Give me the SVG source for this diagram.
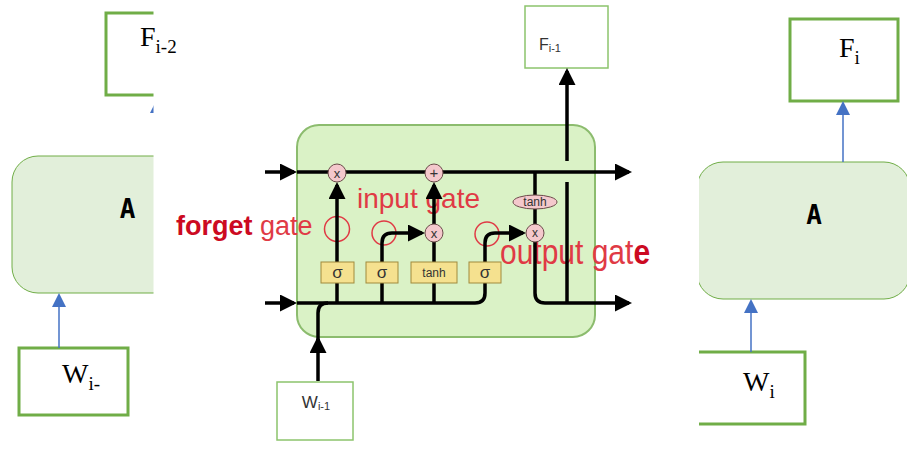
<svg xmlns="http://www.w3.org/2000/svg" width="907" height="450" viewBox="0 0 907 450">
<defs>
<style>
.gbox{fill:#fff;stroke:#70ad47;stroke-width:3}
.arect{fill:#e2efda;stroke:#70ad47;stroke-width:1}
.serif{font-family:"Liberation Serif","Times New Roman",serif;fill:#000;font-size:28px}
.sub{font-size:19px}
.atext{font-family:"DejaVu Sans Mono",monospace;font-weight:bold;font-size:26px;fill:#000;text-anchor:middle}
.blue{stroke:#4472c4;stroke-width:1.5;fill:none;marker-end:url(#bArrow)}
.blk{stroke:#000;stroke-width:3.5;fill:none}
.ka{marker-end:url(#kArrow)}
.sig{fill:#f5e18f;stroke:#a08a3c;stroke-width:1}
.pt{fill:#f4c8cc;stroke:#6b4a4a;stroke-width:1}
.rc{fill:none;stroke:#e03a45;stroke-width:1.5}
.rt{font-family:"Liberation Sans",Arial,sans-serif;fill:#e03a45}
.dk{fill:#cc0a22;font-weight:bold}
.small{font-family:"Liberation Sans",Arial,sans-serif;fill:#333;text-anchor:middle}
.lbox{fill:#fff;stroke:#8cc46c;stroke-width:1.5}
</style>
<marker id="kArrow" markerUnits="userSpaceOnUse" markerWidth="17" markerHeight="17" viewBox="0 0 17 17" refX="14" refY="8.5" orient="auto"><path d="M0,0 L17,8.5 L0,17 z" fill="#000"/></marker>
<marker id="bArrow" markerUnits="userSpaceOnUse" markerWidth="14" markerHeight="14" viewBox="0 0 14 14" refX="12" refY="7" orient="auto"><path d="M0,0 L14,7 L0,14 z" fill="#4472c4"/></marker>
<clipPath id="clipL"><rect x="0" y="0" width="153.5" height="450"/></clipPath>
<clipPath id="clipR"><rect x="699" y="0" width="208" height="450"/></clipPath>
</defs>
<rect x="0" y="0" width="907" height="450" fill="#fff"/>

<!-- left panel -->
<g id="left-A">
  <rect class="arect" x="12" y="156" width="220" height="137" rx="26" clip-path="url(#clipL)"/>
  <text class="atext" x="127.5" y="218">A</text>
</g>
<g id="left-F">
  <rect class="gbox" x="106" y="13" width="100" height="82" clip-path="url(#clipL)"/>
  <text class="serif" x="140" y="46">F<tspan class="sub" dy="7">i-2</tspan></text>
</g>
<g id="left-W">
  <rect class="gbox" x="19" y="348" width="109" height="67"/>
  <text class="serif" x="62" y="383">W<tspan class="sub" dy="7">i-</tspan></text>
</g>

<!-- right panel -->
<g id="right-A">
  <rect class="arect" x="697" y="162" width="213" height="137" rx="26" clip-path="url(#clipR)"/>
  <text class="atext" x="814" y="224">A</text>
</g>
<g id="right-F">
  <rect class="gbox" x="790" y="19" width="108" height="82"/>
  <text class="serif" x="839" y="57">F<tspan class="sub" dy="7">i</tspan></text>
</g>
<g id="right-W">
  <rect class="gbox" x="690" y="352" width="115" height="72" clip-path="url(#clipR)"/>
  <text class="serif" x="743" y="391">W<tspan class="sub" dy="7">i</tspan></text>
</g>

<!-- LSTM cell -->
<g id="lstm-cell">
  <rect x="297" y="125" width="298" height="212" rx="22" fill="#daf2c6" stroke="#8cbc6e" stroke-width="2"/>
</g>
<g id="lstm-F">
  <rect class="lbox" x="525" y="6" width="83" height="62"/>
  <text class="small" x="550" y="50" font-size="16">F<tspan font-size="11" dy="2">i-1</tspan></text>
</g>
<g id="lstm-W">
  <rect class="lbox" x="277" y="382" width="76" height="58"/>
  <text class="small" x="316" y="408" font-size="17">W<tspan font-size="11" dy="2">i-1</tspan></text>
</g>

<g id="gate-labels">
  <text class="rt" x="176" y="235" font-size="27"><tspan class="dk">forget</tspan> gate</text>
  <text class="rt" x="357" y="208" font-size="28">input gate</text>
  <text class="rt" font-size="30" transform="translate(500,264) scale(1,1.15)">output gat<tspan class="dk">e</tspan></text>
  <circle class="rc" cx="337" cy="229" r="12.5"/>
  <circle class="rc" cx="384" cy="233" r="12"/>
  <circle class="rc" cx="487" cy="234" r="12"/>
</g>

<g id="connectors">
  <path class="blue" d="M157 156 V101" clip-path="url(#clipL)"/>
  <path class="blue" d="M59 348 V295"/>
  <path class="blue" d="M843 162 V103"/>
  <path class="blue" d="M751 352 V301"/>

  <path class="blk ka" d="M265 172 H294"/>
  <path class="blk ka" d="M297 172 H629"/>
  <path class="blk ka" d="M265 303 H294"/>
  <path class="blk" d="M297 303 H475 Q485 303 485 293 V283"/>
  <path class="blk" d="M337 303 V283"/>
  <path class="blk" d="M382 303 V283"/>
  <path class="blk" d="M434 303 V283"/>
  <path class="blk ka" d="M337 262 V185"/>
  <path class="blk ka" d="M382 262 V243 Q382 233 392 233 H422"/>
  <path class="blk" d="M434 262 V242"/>
  <path class="blk ka" d="M434 224 V185"/>
  <path class="blk ka" d="M485 262 V243 Q485 233 495 233 H523"/>
  <path class="blk" d="M535 172 V195"/>
  <path class="blk" d="M535 209 V224"/>
  <path class="blk ka" d="M535 242 V293 Q535 303 545 303 H629"/>
  <path class="blk" d="M567 303 V182"/>
  <path class="blk ka" d="M567 161 V71"/>
  <path class="blk ka" d="M318 381 V339"/>
  <path class="blk" d="M318 345 V313 Q318 303 328 303"/>
</g>

<g id="sigma-forget">
  <rect class="sig" x="321" y="262" width="33" height="21"/>
  <text class="small" x="337.5" y="278" font-size="17">σ</text>
</g>
<g id="sigma-input">
  <rect class="sig" x="366" y="262" width="32" height="21"/>
  <text class="small" x="382" y="278" font-size="17">σ</text>
</g>
<g id="tanh-layer">
  <rect class="sig" x="411" y="262" width="46" height="21"/>
  <text class="small" x="434" y="277" font-size="12">tanh</text>
</g>
<g id="sigma-output">
  <rect class="sig" x="469" y="262" width="32" height="21"/>
  <text class="small" x="485" y="278" font-size="17">σ</text>
</g>
<g id="mul-forget">
  <circle class="pt" cx="337" cy="173" r="9"/>
  <text class="small" x="337" y="177.5" font-size="13">x</text>
</g>
<g id="add-cell">
  <circle class="pt" cx="434" cy="173" r="9"/>
  <text class="small" x="434" y="178" font-size="15">+</text>
</g>
<g id="mul-input">
  <circle class="pt" cx="434" cy="233" r="9"/>
  <text class="small" x="434" y="237.5" font-size="13">x</text>
</g>
<g id="mul-output">
  <circle class="pt" cx="535" cy="233" r="9"/>
  <text class="small" x="535" y="237" font-size="12">x</text>
</g>
<g id="tanh-cell">
  <ellipse class="pt" cx="535" cy="202" rx="22" ry="7"/>
  <text class="small" x="535" y="206" font-size="12">tanh</text>
</g>
</svg>
